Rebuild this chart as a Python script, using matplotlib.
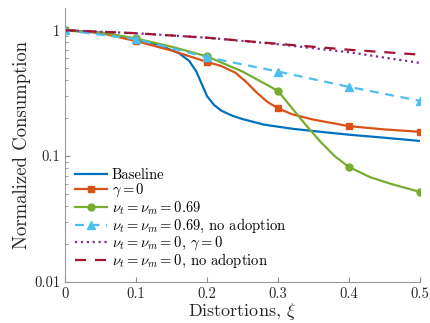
import matplotlib
matplotlib.use("Agg")
import matplotlib.pyplot as plt

plt.rcParams['font.family'] = 'serif'
plt.rcParams['font.serif'] = ['cmr10']
plt.rcParams['mathtext.fontset'] = 'cm'
plt.rcParams['axes.formatter.use_mathtext'] = True

# marker positions
xi = [0, 0.1, 0.2, 0.3, 0.4, 0.5]

# Baseline (no markers)
x_base = [0, 0.05, 0.1, 0.13, 0.16, 0.175, 0.185, 0.193, 0.2, 0.21, 0.22, 0.235,
          0.25, 0.28, 0.32, 0.36, 0.4, 0.45, 0.5]
y_base = [1, 0.96, 0.85, 0.77, 0.66, 0.57, 0.47, 0.37, 0.30, 0.255, 0.23, 0.21,
          0.197, 0.178, 0.165, 0.156, 0.148, 0.14, 0.132]

# gamma = 0
x_gam = [0, 0.05, 0.1, 0.15, 0.2, 0.22, 0.24, 0.255, 0.27, 0.285, 0.3, 0.32, 0.35,
         0.4, 0.45, 0.5]
y_gam = [1, 0.95, 0.82, 0.69, 0.56, 0.52, 0.46, 0.39, 0.32, 0.27, 0.24, 0.215, 0.195,
         0.173, 0.163, 0.156]
m_gam = [1, 0.82, 0.56, 0.24, 0.173, 0.156]

# nu = 0.69
x_nu = [0, 0.05, 0.1, 0.15, 0.2, 0.25, 0.3, 0.32, 0.34, 0.36, 0.38, 0.4, 0.43,
        0.46, 0.5]
y_nu = [1, 0.96, 0.86, 0.74, 0.62, 0.47, 0.33, 0.24, 0.175, 0.13, 0.1, 0.082,
        0.068, 0.06, 0.052]
m_nu = [1, 0.86, 0.62, 0.33, 0.082, 0.052]

# nu = 0.69, no adoption
m_nu_noad = [1, 0.85, 0.61, 0.47, 0.355, 0.275]

# nu = 0, gamma = 0
y_nu0_gam = [1, 0.947, 0.872, 0.774, 0.669, 0.55]

# nu = 0, no adoption
y_nu0_noad = [1, 0.947, 0.872, 0.78, 0.70, 0.64]

fig = plt.figure(figsize=(4.31, 3.23), dpi=100)
ax = fig.add_axes([0.151, 0.127, 0.823, 0.848])

lw = 1.6
ax.plot(x_base, y_base, color='#0072BD', lw=lw, label='Baseline')
ax.plot(x_gam, y_gam, color='#D95319', lw=lw)
ax.plot(xi, m_gam, 's', color='#D95319', ms=5)
ax.plot(x_nu, y_nu, color='#77AC30', lw=lw)
ax.plot(xi, m_nu, 'o', color='#77AC30', ms=5)
ax.plot(xi, m_nu_noad, '--^', color='#4DBEEE', lw=lw, ms=6, dashes=(4, 3))
ax.plot(xi, y_nu0_gam, ':', color='#7E2F8E', lw=lw)
ax.plot(xi, y_nu0_noad, '--', color='#A2142F', lw=lw, dashes=(5, 4))

# legend handles
h = [
    plt.Line2D([], [], color='#0072BD', lw=lw),
    plt.Line2D([], [], color='#D95319', lw=lw, marker='s', ms=5),
    plt.Line2D([], [], color='#77AC30', lw=lw, marker='o', ms=5),
    plt.Line2D([], [], color='#4DBEEE', lw=lw, marker='^', ms=6, ls='--', dashes=(4, 3)),
    plt.Line2D([], [], color='#7E2F8E', lw=lw, ls=':'),
    plt.Line2D([], [], color='#A2142F', lw=lw, ls='--', dashes=(5, 4)),
]
labels = ['Baseline', r'$\gamma = 0$', r'$\nu_t = \nu_m = 0.69$',
          r'$\nu_t = \nu_m = 0.69$, no adoption', r'$\nu_t = \nu_m = 0$, $\gamma = 0$',
          r'$\nu_t = \nu_m = 0$, no adoption']
ax.legend(h, labels, loc='lower left', frameon=False, fontsize=10.5,
          handlelength=2.2, handletextpad=0.3, labelspacing=0.0,
          bbox_to_anchor=(0.0, 0.005), borderaxespad=0.3)

ax.set_yscale('log')
ax.set_xlim(0, 0.5)
ax.set_ylim(0.01, 1.5)
ax.set_yticks([0.01, 0.1, 1])
ax.set_yticklabels(['0.01', '0.1', '1'])
ax.set_xticks(xi)
ax.set_xticklabels(['0', '0.1', '0.2', '0.3', '0.4', '0.5'])
ax.tick_params(which='both', direction='in', labelsize=10.5, colors='#888888',
               labelcolor='#262626')
ax.tick_params(which='minor', length=2)
ax.tick_params(which='major', length=3.5)
for s in ['top', 'right']:
    ax.spines[s].set_visible(False)
for s in ['left', 'bottom']:
    ax.spines[s].set_color('#999999')

ax.set_xlabel(r'Distortions, $\xi$', fontsize=13, color='#262626', labelpad=0)
ax.set_ylabel('Normalized Consumption', fontsize=13.5, color='#262626', labelpad=2)

fig.savefig('out.png', dpi=100)
